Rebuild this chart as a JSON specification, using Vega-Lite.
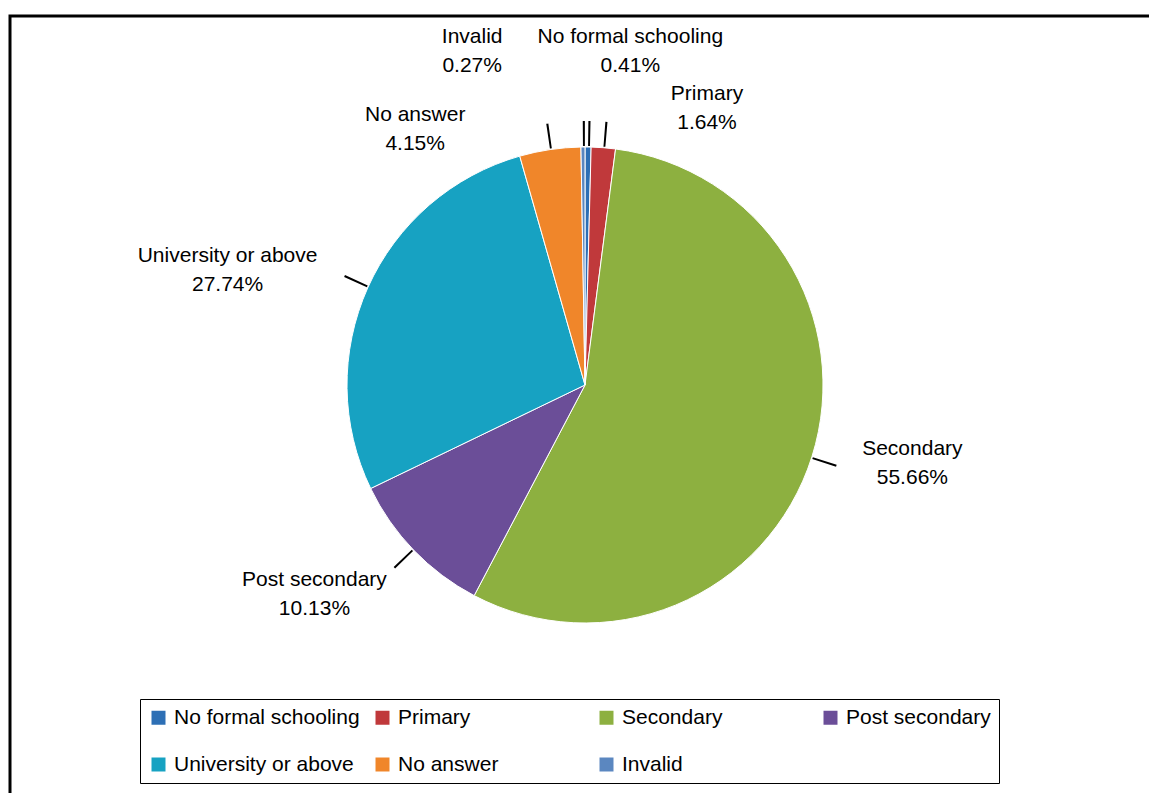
{
  "$schema": "https://vega.github.io/schema/vega-lite/v6.json",
  "autosize": {"type": "none"},
  "width": 1145,
  "height": 785,
  "padding": {"left": 10, "top": 16, "right": -6, "bottom": -8},
  "background": "white",
  "config": {"view": {"stroke": null}},
  "data": {"values": [
    {"category": "No formal schooling", "value": 0.41},
    {"category": "Primary", "value": 1.64},
    {"category": "Secondary", "value": 55.66},
    {"category": "Post secondary", "value": 10.13},
    {"category": "University or above", "value": 27.74},
    {"category": "No answer", "value": 4.15},
    {"category": "Invalid", "value": 0.27}
  ]},
  "transform": [
    {"window": [{"op": "row_number", "as": "idx"}, {"op": "sum", "field": "value", "as": "cum"}]},
    {"calculate": "datum.cum - datum.value / 2", "as": "mid"},
    {"calculate": "datum.category + '\\n' + format(datum.value, '.2f') + '%'", "as": "lab"}
  ],
  "layer": [
    {
      "data": {"values": [{"frame": 1}]},
      "mark": {"type": "rect", "fillOpacity": 0, "stroke": "black", "strokeWidth": 3},
      "encoding": {}
    },
    {
      "mark": {"type": "arc", "outerRadius": 238, "xOffset": 2.5, "yOffset": -23.5, "stroke": "#ffffff", "strokeWidth": 1},
      "encoding": {
        "theta": {"field": "value", "type": "quantitative", "stack": true, "scale": {"domain": [0, 100]}},
        "order": {"field": "idx", "type": "quantitative"},
        "color": {
          "field": "category", "type": "nominal",
          "scale": {
            "domain": ["No formal schooling", "Primary", "Secondary", "Post secondary", "University or above", "No answer", "Invalid"],
            "range": ["#2D6FB5", "#C0393B", "#8DB040", "#6B4E98", "#17A2C2", "#F0862A", "#5B87C0"]
          },
          "legend": {
            "orient": "none", "legendX": 130, "legendY": 683, "direction": "horizontal",
            "columns": 4, "gridAlign": "all", "title": null,
            "symbolType": "square", "symbolSize": 196, "symbolStrokeWidth": 0,
            "labelFont": "Liberation Sans", "labelFontSize": 21, "labelColor": "black", "labelLimit": 300,
            "labelOffset": 5, "columnPadding": 12, "rowPadding": 25, "padding": 8,
            "strokeColor": "black", "fillColor": "white"
          }
        }
      }
    },
    {
      "mark": {"type": "arc", "innerRadius": 239, "outerRadius": 264, "theta2Offset": 0.008, "xOffset": 2.5, "yOffset": -23.5, "color": "black"},
      "encoding": {
        "theta": {"field": "mid", "type": "quantitative", "stack": null},
        "theta2": {"field": "mid"}
      }
    },
    {
      "mark": {"type": "text", "radius": 335, "dx": 10.5, "dy": -61, "font": "Liberation Sans", "fontSize": 21, "lineBreak": "\n", "lineHeight": 29, "align": "center", "baseline": "middle", "color": "black"},
      "encoding": {
        "theta": {"field": "value", "type": "quantitative", "stack": true},
        "order": {"field": "idx", "type": "quantitative"},
        "text": {"condition": {"test": "datum.category === 'Secondary'", "field": "lab", "type": "nominal"}, "value": ""}
      }
    },
    {
      "mark": {"type": "text", "radius": 340, "dx": -23.5, "dy": -65, "font": "Liberation Sans", "fontSize": 21, "lineBreak": "\n", "lineHeight": 29, "align": "center", "baseline": "middle", "color": "black"},
      "encoding": {
        "theta": {"field": "value", "type": "quantitative", "stack": true},
        "order": {"field": "idx", "type": "quantitative"},
        "text": {"condition": {"test": "datum.category === 'Post secondary'", "field": "lab", "type": "nominal"}, "value": ""}
      }
    },
    {
      "mark": {"type": "text", "radius": 372, "dx": -15.5, "dy": 0, "font": "Liberation Sans", "fontSize": 21, "lineBreak": "\n", "lineHeight": 29, "align": "center", "baseline": "middle", "color": "black"},
      "encoding": {
        "theta": {"field": "value", "type": "quantitative", "stack": true},
        "order": {"field": "idx", "type": "quantitative"},
        "text": {"condition": {"test": "datum.category === 'University or above'", "field": "lab", "type": "nominal"}, "value": ""}
      }
    },
    {
      "mark": {"type": "text", "radius": 278, "dx": -126.5, "dy": -19, "font": "Liberation Sans", "fontSize": 21, "lineBreak": "\n", "lineHeight": 29, "align": "center", "baseline": "middle", "color": "black"},
      "encoding": {
        "theta": {"field": "value", "type": "quantitative", "stack": true},
        "order": {"field": "idx", "type": "quantitative"},
        "text": {"condition": {"test": "datum.category === 'No answer'", "field": "lab", "type": "nominal"}, "value": ""}
      }
    },
    {
      "mark": {"type": "text", "radius": 334, "dx": -107.5, "dy": -38, "font": "Liberation Sans", "fontSize": 21, "lineBreak": "\n", "lineHeight": 29, "align": "center", "baseline": "middle", "color": "black"},
      "encoding": {
        "theta": {"field": "value", "type": "quantitative", "stack": true},
        "order": {"field": "idx", "type": "quantitative"},
        "text": {"condition": {"test": "datum.category === 'Invalid'", "field": "lab", "type": "nominal"}, "value": ""}
      }
    },
    {
      "mark": {"type": "text", "radius": 334, "dx": 43.5, "dy": -38, "font": "Liberation Sans", "fontSize": 21, "lineBreak": "\n", "lineHeight": 29, "align": "center", "baseline": "middle", "color": "black"},
      "encoding": {
        "theta": {"field": "value", "type": "quantitative", "stack": true},
        "order": {"field": "idx", "type": "quantitative"},
        "text": {"condition": {"test": "datum.category === 'No formal schooling'", "field": "lab", "type": "nominal"}, "value": ""}
      }
    },
    {
      "mark": {"type": "text", "radius": 285, "dx": 102.5, "dy": -30, "font": "Liberation Sans", "fontSize": 21, "lineBreak": "\n", "lineHeight": 29, "align": "center", "baseline": "middle", "color": "black"},
      "encoding": {
        "theta": {"field": "value", "type": "quantitative", "stack": true},
        "order": {"field": "idx", "type": "quantitative"},
        "text": {"condition": {"test": "datum.category === 'Primary'", "field": "lab", "type": "nominal"}, "value": ""}
      }
    }
  ]
}
